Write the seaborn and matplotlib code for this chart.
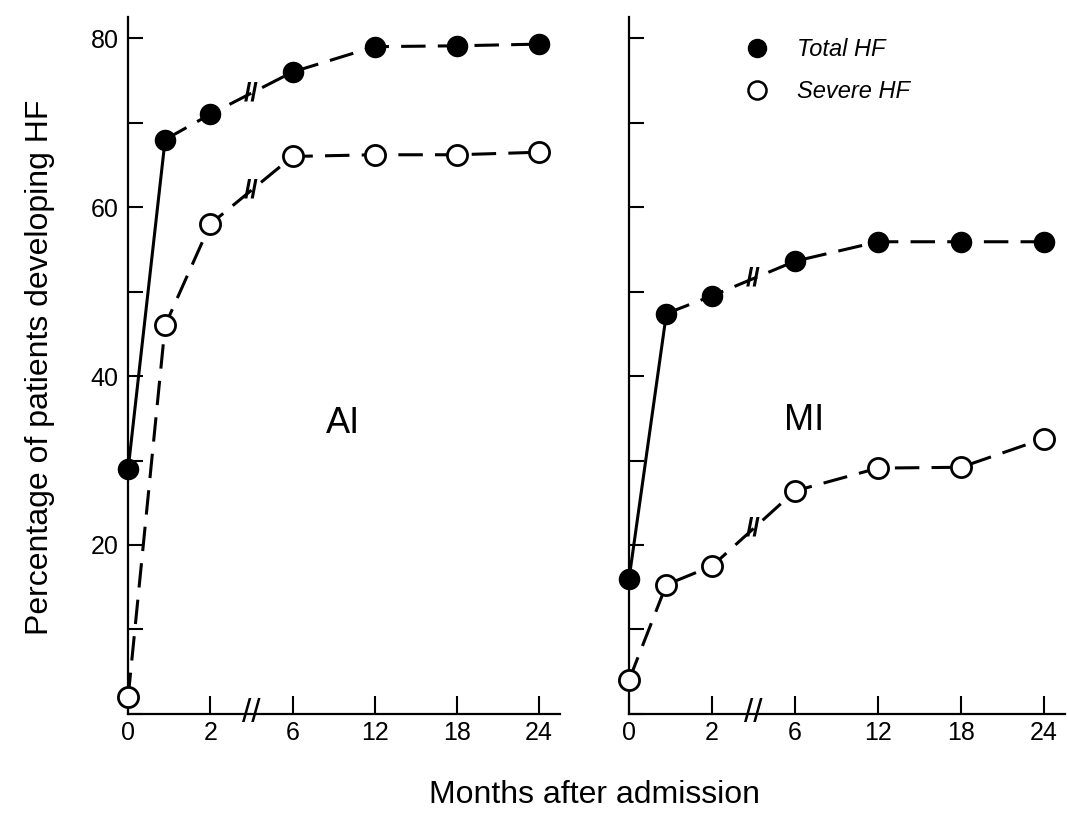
import numpy as np
import pandas as pd
import seaborn as sns
import matplotlib.pyplot as plt
from matplotlib.lines import Line2D

# values
months = [0, 0.9, 2, 6, 12, 18, 24]
ai_total = [29, 68, 71, 76, 79, 79.1, 79.3]
ai_severe = [2, 46, 58, 66, 66.2, 66.2, 66.5]
mi_total = [16, 47.4, 49.5, 53.6, 55.9, 55.9, 55.9]
mi_severe = [4, 15.3, 17.5, 26.4, 29.1, 29.2, 32.6]

tick_months = [0, 2, 6, 12, 18, 24]
y_major = [0, 20, 40, 60, 80]
y_minor = [10, 30, 50, 70]


def month_pos(m):
    # broken axis: 0-2 months squeezed in one step, then 6-month steps
    m = np.asarray(m, dtype=float)
    return np.where(m <= 2, m / 2, 2 + (m - 6) / 6)


rows = []
for panel, tot, sev in [("AI", ai_total, ai_severe), ("MI", mi_total, mi_severe)]:
    for i, m in enumerate(months):
        rows.append(dict(panel=panel, series="Total HF", idx=i, month=m, value=tot[i]))
        rows.append(dict(panel=panel, series="Severe HF", idx=i, month=m, value=sev[i]))
df = pd.DataFrame(rows)
df["pos"] = month_pos(df["month"])

sns.set_style("ticks")
plt.rcParams["font.family"] = ["Liberation Sans", "DejaVu Sans"]
plt.rcParams["text.color"] = "black"
plt.rcParams["xtick.color"] = "black"
plt.rcParams["ytick.color"] = "black"
plt.rcParams["axes.edgecolor"] = "black"

fig = plt.figure(figsize=(10.68, 8.14), dpi=100)
ax1 = fig.add_axes([0.12, 0.123, 0.404, 0.856])
ax2 = fig.add_axes([0.589, 0.123, 0.408, 0.856])

lw = 2.2
dash = (8, 4)

for ax, panel in [(ax1, "AI"), (ax2, "MI")]:
    d = df[df.panel == panel]
    tot = d[d.series == "Total HF"]
    sev = d[d.series == "Severe HF"]

    # total: solid rise to first follow-up, dashed afterwards
    sns.lineplot(data=tot[tot.idx <= 1], x="pos", y="value", ax=ax, color="black",
                 lw=lw, estimator=None, sort=False)
    sns.lineplot(data=tot[tot.idx >= 1], x="pos", y="value", ax=ax, color="black",
                 lw=lw, estimator=None, sort=False, linestyle=(0, dash))
    sns.lineplot(data=sev, x="pos", y="value", ax=ax, color="black",
                 lw=lw, estimator=None, sort=False, linestyle=(0, dash))

    sns.scatterplot(data=tot, x="pos", y="value", ax=ax, s=210, color="black",
                    edgecolor="black", linewidth=1, zorder=5, clip_on=False)
    sns.scatterplot(data=sev, x="pos", y="value", ax=ax, s=210, facecolor="white",
                    edgecolor="black", linewidth=2, zorder=5, clip_on=False)

    # break marks on the curves and on the axis
    for s in [tot, sev]:
        yb = (s[s.idx == 2].value.iloc[0] + s[s.idx == 3].value.iloc[0]) / 2
        ax.text(1.5, yb, "//", ha="center", va="center", fontsize=19,
                fontweight="bold", color="black")
    ax.text(1.5, 0, "//", ha="center", va="center", fontsize=24, color="black",
            clip_on=False)

    ax.set_xlim(0, 5.25)
    ax.set_ylim(0, 82.5)
    ax.set_xticks(month_pos(tick_months))
    ax.set_xticklabels([str(t) for t in tick_months], fontsize=18)
    ax.set_yticks(y_major)
    ax.set_yticks(y_minor, minor=True)
    ax.tick_params(axis="x", direction="in", length=13, width=1.5, pad=5,
                   labelsize=18)
    ax.tick_params(axis="y", which="both", direction="in", length=11, width=1.5,
                   pad=7, labelsize=18)
    ax.set_xlabel("")
    ax.set_ylabel("")
    sns.despine(ax=ax)
    for sp in ["left", "bottom"]:
        ax.spines[sp].set_linewidth(1.6)
    ax.set_facecolor("none")

ax1.set_yticklabels([""] + [str(v) for v in y_major[1:]], fontsize=18)
ax2.set_yticklabels([])

ax1.text(2.61, 34.4, "AI", ha="center", va="center", fontsize=26)
ax2.text(2.11, 34.7, "MI", ha="center", va="center", fontsize=26)

handles = [
    Line2D([], [], marker="o", ls="none", ms=13, color="black", mfc="black"),
    Line2D([], [], marker="o", ls="none", ms=13, color="black", mfc="white", mew=1.8),
]
leg = ax2.legend(handles, ["Total HF", "Severe HF"], loc="upper left",
                 bbox_to_anchor=(0.19, 1.0), frameon=False, handletextpad=0.7,
                 labelspacing=0.8, prop=dict(size=17, style="italic"))

fig.text(0.557, 1 - 795 / 814, "Months after admission", ha="center", va="center",
         fontsize=23)
fig.text(40 / 1068, 1 - 367 / 814, "Percentage of patients developing HF",
         ha="center", va="center", rotation=90, fontsize=23)

fig.savefig("out.png", dpi=100)
